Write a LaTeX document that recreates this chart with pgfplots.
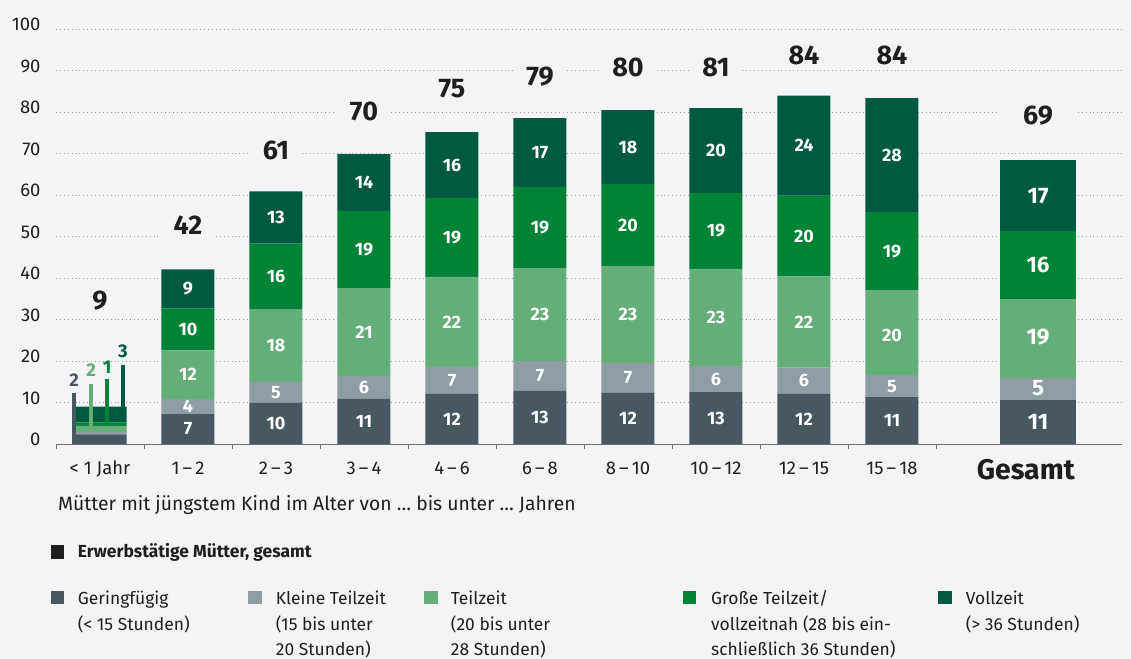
\documentclass[border=0pt]{standalone}
\usepackage{pgfplots}
\pgfplotsset{compat=1.18}
\usepackage{pgfplotstable}
\usepackage{fontspec}
\setmainfont{Fira Sans}
\definecolor{bg}{HTML}{F4F3F6}
\definecolor{cA}{HTML}{485860}
\definecolor{cB}{HTML}{8E9CA4}
\definecolor{cC}{HTML}{66AE78}
\definecolor{cD}{HTML}{008237}
\definecolor{cE}{HTML}{005A41}
\definecolor{txt}{HTML}{1E1E1E}
\definecolor{gridc}{HTML}{9A9A9A}
\definecolor{axisc}{HTML}{6E6E6E}

\pgfplotstableread{
x  ger  kle  tei  gro  vol
0  2.3  0.6  1.5  0.8  3.8
1  7.2  3.6  11.8 10.1 9.4
2  9.9  5.1  17.4 15.9 12.6
3  10.9 5.5  21.2 18.6 13.7
4  12.1 6.5  21.7 19.0 15.9
5  12.8 7.2  22.4 19.6 16.6
6  12.3 7.2  23.4 19.8 17.8
7  12.5 6.3  23.4 18.3 20.5
8  12.1 6.3  22.0 19.5 24.1
9  11.3 5.3  20.5 18.8 27.5
}\main

\pgfplotstableread{
x     ger  kle  tei  gro  vol
10.66 10.6 5.3  19.1 16.4 17.1
}\ges

\pgfplotstableread{
x y l
1 3.6 7
1 9.0 4
1 16.7 12
1 27.65 10
1 37.4 9
2 4.95 10
2 12.45 5
2 23.7 18
2 40.35 16
2 54.6 13
3 5.45 11
3 13.65 6
3 27.0 21
3 46.9 19
3 63.05 14
4 6.05 12
4 15.35 7
4 29.45 22
4 49.8 19
4 67.25 16
5 6.4 13
5 16.4 7
5 31.2 23
5 52.2 19
5 70.3 17
6 6.15 12
6 15.9 7
6 31.2 23
6 52.8 20
6 71.6 18
7 6.25 13
7 15.65 6
7 30.5 23
7 51.35 19
7 70.75 20
8 6.05 12
8 15.25 6
8 29.4 22
8 50.15 20
8 71.95 24
9 5.65 11
9 13.95 5
9 26.2 20
9 46.5 19
9 69.65 28
}\inlab

\pgfplotstableread{
x y l
10.66 5.3 11
10.66 13.5 5
10.66 25.8 19
10.66 43.2 16
10.66 59.8 17
}\geslab

\pgfplotstableread{
x y l
0 34.7 9
1 52.8 42
2 70.9 61
3 80.1 70
4 85.8 75
5 88.7 79
6 90.7 80
7 90.9 81
8 93.8 84
9 93.8 84
}\totlab

\pgfplotsset{base/.style={scale only axis, width=1064.8bp, height=414.7bp,
  xmin=-0.5, xmax=11.6, ymin=0, ymax=100, clip=false, at={(0,0)}, anchor=south west}}

\begin{document}
\begin{tikzpicture}
\fill[bg] (-56bp,-215bp) rectangle (1075bp,444bp);

% main bars
\begin{axis}[base, ybar stacked, bar width=53bp,
  axis x line=bottom, axis y line=left,
  x axis line style={-, draw=axisc, line width=1bp},
  y axis line style={draw=none},
  ytick={0,10,...,100}, ymajorgrids,
  grid style={draw=gridc, line width=0.9bp, dash pattern=on 0.9bp off 3bp},
  ytick style={draw=none},
  xtick={0,1,...,9,10.52},
  xticklabels={{< 1 Jahr}, 1\,–\,2, 2\,–\,3, 3\,–\,4, 4\,–\,6, 6\,–\,8, 8\,–\,10, 10\,–\,12, 12\,–\,15, 15\,–\,18, {\raisebox{-5bp}{\bfseries\fontsize{28.5}{30}\selectfont Gesamt}}},
  minor xtick={-0.5,0.5,...,9.5},
  major tick length=0pt, minor tick length=5bp,
  tick align=outside,
  xtick style={draw=axisc, line width=0.9bp},
  /pgf/number format/assume math mode=true,
  yticklabel style={font=\fontsize{18.5}{22}\selectfont, text=txt, anchor=base east, inner sep=0pt, xshift=-15.3bp, yshift=-1.5bp},
  xticklabel style={font=\fontsize{18.5}{22}\selectfont, text=txt, anchor=base, inner sep=0pt, yshift=-30bp},
]
\addplot[fill=cA, draw=none] table[x=x,y=ger]{\main};
\addplot[fill=cB, draw=none] table[x=x,y=kle]{\main};
\addplot[fill=cC, draw=none] table[x=x,y=tei]{\main};
\addplot[fill=cD, draw=none] table[x=x,y=gro]{\main};
\addplot[fill=cE, draw=none] table[x=x,y=vol]{\main};
\end{axis}

% Gesamt bar
\begin{axis}[base, hide axis, ybar stacked, bar width=76bp]
\addplot[fill=cA, draw=none] table[x=x,y=ger]{\ges};
\addplot[fill=cB, draw=none] table[x=x,y=kle]{\ges};
\addplot[fill=cC, draw=none] table[x=x,y=tei]{\ges};
\addplot[fill=cD, draw=none] table[x=x,y=gro]{\ges};
\addplot[fill=cE, draw=none] table[x=x,y=vol]{\ges};
\end{axis}

% labels and leaders
\begin{axis}[base, hide axis]
\addplot[cA, line width=4bp] coordinates {(-0.295,0) (-0.295,12.2)};
\addplot[cC, line width=4bp] coordinates {(-0.102,3.6) (-0.102,14.5)};
\addplot[cD, line width=4bp] coordinates {(0.08,4.8) (0.08,15.7)};
\addplot[cE, line width=4bp] coordinates {(0.261,6) (0.261,19.0)};
\addplot[only marks, mark=none, nodes near coords, point meta=explicit symbolic,
  every node near coord/.style={anchor=center, text=cA, font=\bfseries\fontsize{18.5}{20}\selectfont}]
  coordinates {(-0.295,15.4) [2]};
\addplot[only marks, mark=none, nodes near coords, point meta=explicit symbolic,
  every node near coord/.style={anchor=center, text=cC, font=\bfseries\fontsize{18.5}{20}\selectfont}]
  coordinates {(-0.102,17.7) [2]};
\addplot[only marks, mark=none, nodes near coords, point meta=explicit symbolic,
  every node near coord/.style={anchor=center, text=cD, font=\bfseries\fontsize{18.5}{20}\selectfont}]
  coordinates {(0.08,18.5) [1]};
\addplot[only marks, mark=none, nodes near coords, point meta=explicit symbolic,
  every node near coord/.style={anchor=center, text=cE, font=\bfseries\fontsize{18.5}{20}\selectfont}]
  coordinates {(0.261,22.3) [3]};
\addplot[only marks, mark=none, nodes near coords, point meta=explicit symbolic,
  every node near coord/.style={anchor=center, text=white, font=\bfseries\fontsize{18}{20}\selectfont}]
  table[x=x,y=y,meta=l]{\inlab};
\addplot[only marks, mark=none, nodes near coords, point meta=explicit symbolic,
  every node near coord/.style={anchor=center, text=white, font=\bfseries\fontsize{22.5}{24}\selectfont}]
  table[x=x,y=y,meta=l]{\geslab};
\addplot[only marks, mark=none, nodes near coords, point meta=explicit symbolic,
  every node near coord/.style={anchor=center, text=txt, fill=bg, minimum width=53bp, minimum height=26bp, inner sep=0pt, font=\bfseries\fontsize{27}{30}\selectfont}]
  table[x=x,y=y,meta=l]{\totlab};
\addplot[only marks, mark=none, nodes near coords, point meta=explicit symbolic,
  every node near coord/.style={anchor=center, text=txt, fill=bg, minimum width=76bp, minimum height=26bp, inner sep=0pt, font=\bfseries\fontsize{27}{30}\selectfont}]
  coordinates {(10.66,79.1) [69]};
\end{axis}

% legend / notes
\node[anchor=base west, inner sep=0pt, text=txt, font=\fontsize{19.4}{22}\selectfont] at (2bp,-66.7bp) {Mütter mit jüngstem Kind im Alter von … bis unter … Jahren};
\begin{scope}[every node/.style={anchor=base west, inner sep=0pt, text=txt, font=\fontsize{17.5}{22}\selectfont}]
\fill[txt] (-5.3bp,-100.5bp) rectangle (8.3bp,-114.5bp);
\node at (21.7bp,-113.3bp) {\bfseries Erwerbstätige Mütter, gesamt};
\fill[cA] (-5.3bp,-146.5bp) rectangle (8.3bp,-160bp);
\node at (21.7bp,-160bp) {Geringfügig};
\node at (21.7bp,-186bp) {(< 15 Stunden)};
\fill[cB] (192bp,-146.5bp) rectangle (205.6bp,-160bp);
\node at (219.7bp,-160bp) {Kleine Teilzeit};
\node at (219.7bp,-186bp) {(15 bis unter};
\node at (219.7bp,-211.7bp) {20 Stunden)};
\fill[cC] (368bp,-146.5bp) rectangle (381.6bp,-160bp);
\node at (394.7bp,-160bp) {Teilzeit};
\node at (394.7bp,-186bp) {(20 bis unter};
\node at (394.7bp,-211.7bp) {28 Stunden)};
\fill[cD] (626.7bp,-146.5bp) rectangle (640.3bp,-160bp);
\node at (655bp,-160bp) {Große Teilzeit/};
\node at (655bp,-186bp) {vollzeitnah (28 bis ein-};
\node at (655bp,-211.7bp) {schließlich 36 Stunden)};
\fill[cE] (882bp,-146.5bp) rectangle (895.6bp,-160bp);
\node at (909.7bp,-160bp) {Vollzeit};
\node at (909.7bp,-186bp) {(> 36 Stunden)};
\end{scope}

\pgfresetboundingbox
\useasboundingbox (-56bp,-215bp) rectangle (1075bp,444bp);
\end{tikzpicture}
\end{document}
